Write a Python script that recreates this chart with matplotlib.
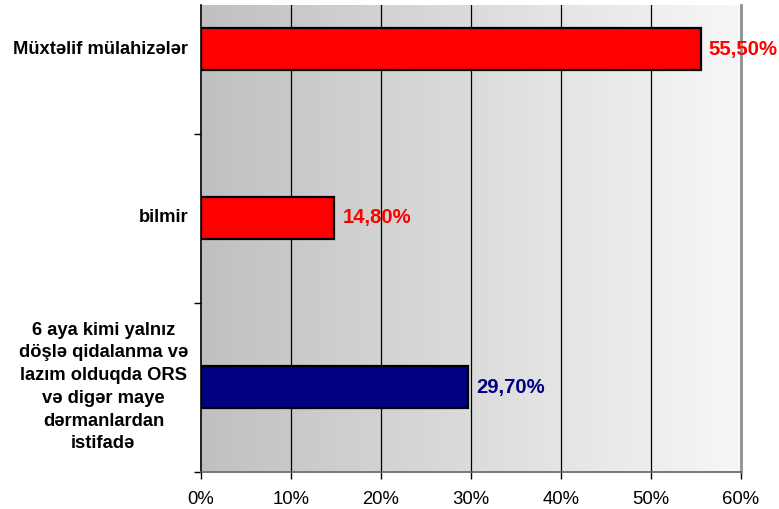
import matplotlib
matplotlib.use("Agg")
import matplotlib.pyplot as plt
import matplotlib.transforms as mtransforms
import numpy as np
from matplotlib.colors import LinearSegmentedColormap

categories = ["6 aya kimi yalnız\ndöşlə qidalanma və\nlazım olduqda ORS\nvə digər maye\ndərmanlardan\nistifadə",
              "bilmir",
              "Müxtəlif mülahizələr"]
values = [29.7, 14.8, 55.5]
value_labels = ["29,70%", "14,80%", "55,50%"]
bar_colors = ["#000080", "#FF0000", "#FF0000"]
label_colors = ["#000080", "#FF0000", "#FF0000"]
xticks = [0, 10, 20, 30, 40, 50, 60]
xtick_labels = ["0%", "10%", "20%", "30%", "40%", "50%", "60%"]

plt.rcParams['font.family'] = ['Liberation Sans', 'DejaVu Sans']

W, H = 779, 509
fig = plt.figure(figsize=(W / 100, H / 100), dpi=100)
left_px, right_px, top_px, bottom_px = 201, 741, 5, 471.5
unit = 169.0
ax = fig.add_axes([left_px / W, 1 - bottom_px / H, (right_px - left_px) / W, (bottom_px - top_px) / H])

ymin, ymax = -0.5, (bottom_px - top_px) / unit - 0.5
ax.set_xlim(0, 60)
ax.set_ylim(ymin, ymax)

# gradient background
grad = np.linspace(0, 1, 256).reshape(1, -1)
cmap = LinearSegmentedColormap.from_list("bg", ["#c0c0c0", "#f7f7f7"])
ax.imshow(grad, extent=[0, 60, ymin, ymax], aspect='auto', cmap=cmap, zorder=0)

for x in xticks[1:-1]:
    ax.axvline(x, color="black", lw=0.9, zorder=1)

y = np.arange(len(categories))
ax.barh(y, values, height=0.25, color=bar_colors, edgecolor="black", linewidth=1.6, zorder=3)

for yi, v, lab, c in zip(y, values, value_labels, label_colors):
    ax.text(v + 0.9, yi, lab, color=c, fontsize=14.6, fontweight='bold', va='center', ha='left', zorder=4)

trans = mtransforms.blended_transform_factory(fig.transFigure, ax.transData)
for yi, cat in zip(y, categories):
    ax.text(188 / W, yi, cat, transform=trans, ha='right', va='center', multialignment='center',
            fontsize=13.2, fontweight='bold', linespacing=1.44, color='black')

ax.set_xticks(xticks)
ax.set_xticklabels(xtick_labels, fontsize=13.3)
ax.set_yticks([-0.5, 0.5, 1.5])
ax.set_yticklabels([])
ax.tick_params(axis='x', direction='out', length=5, width=1, pad=9)
ax.tick_params(axis='y', direction='out', length=5, width=1)

ax.spines['top'].set_visible(False)
ax.spines['right'].set_color('#909090')
ax.spines['right'].set_linewidth(2)
ax.spines['left'].set_color('black')
ax.spines['left'].set_linewidth(1.2)
ax.spines['bottom'].set_color('#606060')
ax.spines['bottom'].set_linewidth(1.2)

fig.savefig("out.png", dpi=100)
